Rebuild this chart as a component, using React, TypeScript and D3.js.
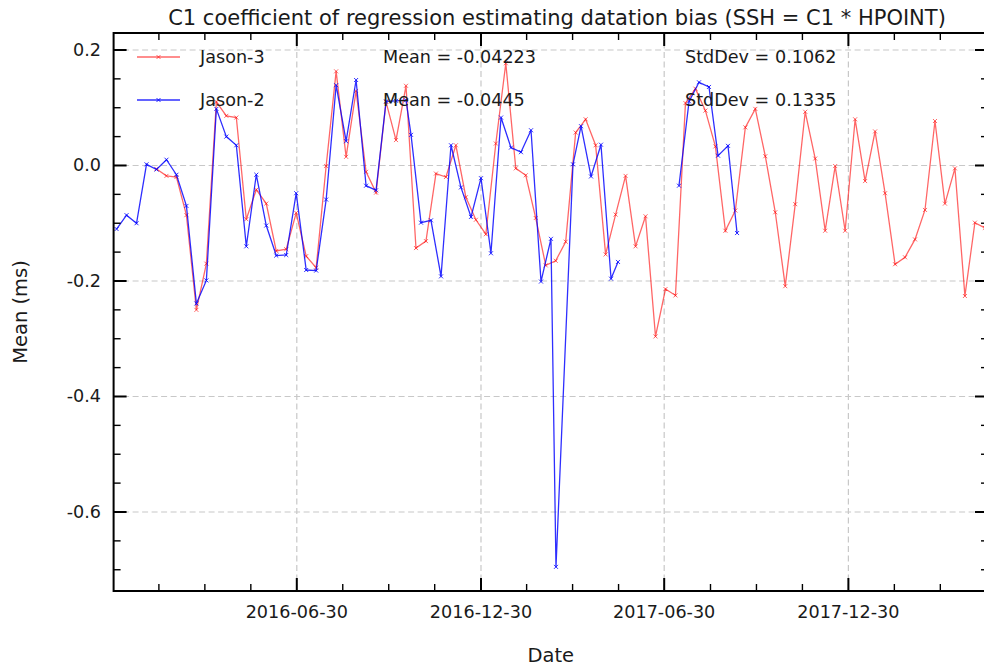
import { useEffect, useRef } from "react";
import * as d3 from "d3";

// days are counted from 2016-01-01 (UTC)
const baseDate = Date.UTC(2016, 0, 1);
const dayMs = 86400000;
const cycleDays = 9.9156;

// Jason-3, one value per cycle, first cycle centred on day 41.6
const j3FirstDay = 41.6;
const j3Values = [
  -0.006, -0.018, -0.02, -0.086, -0.25, -0.17, 0.11, 0.086, 0.083, -0.093,
  -0.042, -0.066, -0.148, -0.145, -0.082, -0.157, -0.177, -0.001, 0.163, 0.015,
  0.129, -0.011, -0.047, 0.11, 0.044, 0.138, -0.143, -0.131, -0.014, -0.02,
  0.035, -0.055, -0.094, -0.119, 0.038, 0.177, -0.005, -0.017, -0.091, -0.173,
  -0.165, -0.132, 0.057, 0.08, 0.035, -0.154, -0.085, -0.018, -0.14, -0.088,
  -0.296, -0.214, -0.225, 0.108, 0.133, 0.095, 0.033, -0.113, -0.078, 0.066,
  0.098, 0.016, -0.081, -0.209, -0.067, 0.093, 0.012, -0.113, -0.001, -0.113,
  0.08, -0.027, 0.059, -0.048, -0.171, -0.159, -0.128, -0.077, 0.077, -0.066,
  -0.005, -0.226, -0.099, -0.108,
];

// Jason-2 tandem phase, same cycle grid as Jason-3, 4 cycles earlier
const j2TandemFirstDay = 1.94;
const j2TandemValues = [
  -0.11, -0.086, -0.1, 0.002, -0.007, 0.01, -0.016, -0.07, -0.239, -0.199,
  0.098, 0.05, 0.035, -0.14, -0.016, -0.104, -0.156, -0.155, -0.048, -0.181,
  -0.182, -0.059, 0.139, 0.042, 0.148, -0.035, -0.043, 0.111, 0.112, 0.113,
];

// Jason-2 interleaved orbit
const j2InterDays = [
  294.5, 304.4, 314.3, 324.3, 334.2, 344.1, 354.1, 364.0, 373.9, 383.9, 393.8,
  403.7, 413.7, 423.6, 433.5, 438.5, 455.4, 463.4, 473.3, 483.2, 493.2, 500.1,
];
const j2InterValues = [
  0.053, -0.099, -0.095, -0.192, 0.035, -0.038, -0.089, -0.022, -0.152, 0.083,
  0.031, 0.023, 0.061, -0.201, -0.127, -0.695, 0.002, 0.068, -0.019, 0.036,
  -0.196, -0.167,
];
const j2LateDays = [560.7, 570.7, 580.6, 590.5, 599.5, 609.4, 618.4];
const j2LateValues = [-0.035, 0.111, 0.144, 0.136, 0.017, 0.034, -0.117];

const xTickLabels = ["2016-06-30", "2016-12-30", "2017-06-30", "2017-12-30"];
const yTicks = [0.2, 0.0, -0.2, -0.4, -0.6];
const yTickLabels = ["0.2", "0.0", "-0.2", "-0.4", "-0.6"];

const seriesNames = ["Jason-3", "Jason-2"];
const meanLabels = ["Mean = -0.04223", "Mean = -0.0445"];
const stdLabels = ["StdDev = 0.1062", "StdDev = 0.1335"];
const seriesColors = ["#ff0000", "#0000ff"];
const seriesOpacity = [0.6, 0.82];

const title =
  "C1 coefficient of regression estimating datation bias (SSH = C1 * HPOINT)";

interface Pt {
  date: Date;
  value: number | null;
}

const toDate = (day: number) => new Date(baseDate + day * dayMs);

const App = () => {
  const ref = useRef<SVGSVGElement>(null);

  useEffect(() => {
    const width = 984;
    const height = 668;
    const left = 113.6;
    const right = 988;
    const top = 33;
    const bottom = 591;
    const font = "DejaVu Sans, sans-serif";

    const svg = d3.select(ref.current);
    svg.selectAll("*").remove();
    svg.attr("width", width).attr("height", height);

    const x = d3
      .scaleTime()
      .domain([toDate(-1.0), toDate(867.7)])
      .range([left, right]);
    const y = d3.scaleLinear().domain([-0.7368, 0.2294]).range([bottom, top]);

    const j3: Pt[] = j3Values.map((v, i) => ({
      date: toDate(j3FirstDay + i * cycleDays),
      value: v,
    }));
    const j2: Pt[] = [
      ...j2TandemValues.map((v, i) => ({
        date: toDate(j2TandemFirstDay + i * cycleDays),
        value: v,
      })),
      ...j2InterValues.map((v, i) => ({ date: toDate(j2InterDays[i]), value: v })),
      { date: toDate(530), value: null },
      ...j2LateValues.map((v, i) => ({ date: toDate(j2LateDays[i]), value: v })),
    ];

    svg
      .append("defs")
      .append("clipPath")
      .attr("id", "plotClip")
      .append("rect")
      .attr("x", left)
      .attr("y", top)
      .attr("width", right - left)
      .attr("height", bottom - top);

    // grid
    const majorDates = xTickLabels.map((s) => new Date(s + "T00:00:00Z"));
    const grid = svg
      .append("g")
      .attr("stroke", "#c8c8c8")
      .attr("stroke-width", 1.2)
      .attr("stroke-dasharray", "6,3.5");
    majorDates.forEach((d) => {
      grid
        .append("line")
        .attr("x1", x(d))
        .attr("x2", x(d))
        .attr("y1", top)
        .attr("y2", bottom);
    });
    yTicks.forEach((v) => {
      grid
        .append("line")
        .attr("x1", left)
        .attr("x2", right)
        .attr("y1", y(v))
        .attr("y2", y(v));
    });

    // series
    const line = d3
      .line<Pt>()
      .defined((d) => d.value !== null)
      .x((d) => x(d.date))
      .y((d) => y(d.value as number));

    const plot = svg.append("g").attr("clip-path", "url(#plotClip)");
    [j3, j2].forEach((data, k) => {
      const g = plot
        .append("g")
        .attr("stroke", seriesColors[k])
        .attr("stroke-opacity", seriesOpacity[k])
        .attr("fill", "none");
      g.append("path").datum(data).attr("stroke-width", 1.3).attr("d", line);
      const m = 2;
      g.selectAll("path.mk")
        .data(data.filter((d) => d.value !== null))
        .join("path")
        .attr("class", "mk")
        .attr("stroke-width", 1)
        .attr("d", (d) => {
          const px = x(d.date);
          const py = y(d.value as number);
          return `M${px - m},${py - m}L${px + m},${py + m}M${px - m},${py + m}L${px + m},${py - m}`;
        });
    });

    // ticks (inward on all four sides)
    const ticks = svg.append("g").attr("stroke", "#000");
    const majorStep = (majorDates[majorDates.length - 1].getTime() - majorDates[0].getTime()) / (majorDates.length - 1);
    const [d0, d1] = x.domain().map((d) => d.getTime());
    const minorX: number[] = [];
    for (let t = majorDates[0].getTime(); t >= d0; t -= majorStep / 4) minorX.push(t);
    for (let t = majorDates[0].getTime() + majorStep / 4; t <= d1; t += majorStep / 4) minorX.push(t);
    minorX.forEach((t) => {
      const near = majorDates.find((d) => Math.abs(d.getTime() - t) < dayMs * 3);
      const px = near ? x(near) : x(new Date(t));
      const len = near ? 13 : 7;
      const w = near ? 2 : 1.4;
      ticks.append("line").attr("x1", px).attr("x2", px).attr("y1", bottom).attr("y2", bottom - len).attr("stroke-width", w);
      ticks.append("line").attr("x1", px).attr("x2", px).attr("y1", top).attr("y2", top + len).attr("stroke-width", w);
    });
    d3.range(-0.7, 0.2001, 0.05).forEach((v) => {
      const isMajor = yTicks.some((t) => Math.abs(t - v) < 1e-6);
      const len = isMajor ? 13 : 7;
      const w = isMajor ? 2 : 1.4;
      ticks.append("line").attr("x1", left).attr("x2", left + len).attr("y1", y(v)).attr("y2", y(v)).attr("stroke-width", w);
      ticks.append("line").attr("x1", right).attr("x2", right - len).attr("y1", y(v)).attr("y2", y(v)).attr("stroke-width", w);
    });

    // frame
    svg
      .append("rect")
      .attr("x", left)
      .attr("y", top)
      .attr("width", right - left)
      .attr("height", bottom - top)
      .attr("fill", "none")
      .attr("stroke", "#000")
      .attr("stroke-width", 2);

    // tick labels
    const txt = svg.append("g").attr("font-family", font).attr("font-size", 17.6).attr("fill", "#1a1a1a");
    majorDates.forEach((d, i) => {
      txt.append("text").attr("x", x(d)).attr("y", 618).attr("text-anchor", "middle").text(xTickLabels[i]);
    });
    yTicks.forEach((v, i) => {
      txt.append("text").attr("x", 101).attr("y", y(v) + 6).attr("text-anchor", "end").text(yTickLabels[i]);
    });

    // titles
    txt.append("text").attr("x", 557).attr("y", 25).attr("font-size", 21).attr("text-anchor", "middle").text(title);
    txt.append("text").attr("x", (left + right) / 2).attr("y", 662).attr("font-size", 19.5).attr("text-anchor", "middle").text("Date");
    txt
      .append("text")
      .attr("transform", `translate(27,${(top + bottom) / 2}) rotate(-90)`)
      .attr("font-size", 19.5)
      .attr("text-anchor", "middle")
      .text("Mean (ms)");

    // legend
    const rows = [57, 100];
    rows.forEach((ry, k) => {
      const g = svg
        .append("g")
        .attr("stroke", seriesColors[k])
        .attr("stroke-opacity", seriesOpacity[k]);
      g.append("line").attr("x1", 137).attr("x2", 180).attr("y1", ry).attr("y2", ry).attr("stroke-width", 1.3);
      g.append("path")
        .attr("stroke-width", 1)
        .attr("d", `M156.5,${ry - 2}L160.5,${ry + 2}M156.5,${ry + 2}L160.5,${ry - 2}`);
      txt.append("text").attr("x", 200).attr("y", ry + 6).text(seriesNames[k]);
      txt.append("text").attr("x", 383).attr("y", ry + 6).text(meanLabels[k]);
      txt.append("text").attr("x", 685).attr("y", ry + 6).text(stdLabels[k]);
    });
  });

  return (
    <svg
      ref={ref}
      style={{ position: "absolute", left: 0, top: 0, background: "#fff" }}
    />
  );
};

export default App;
